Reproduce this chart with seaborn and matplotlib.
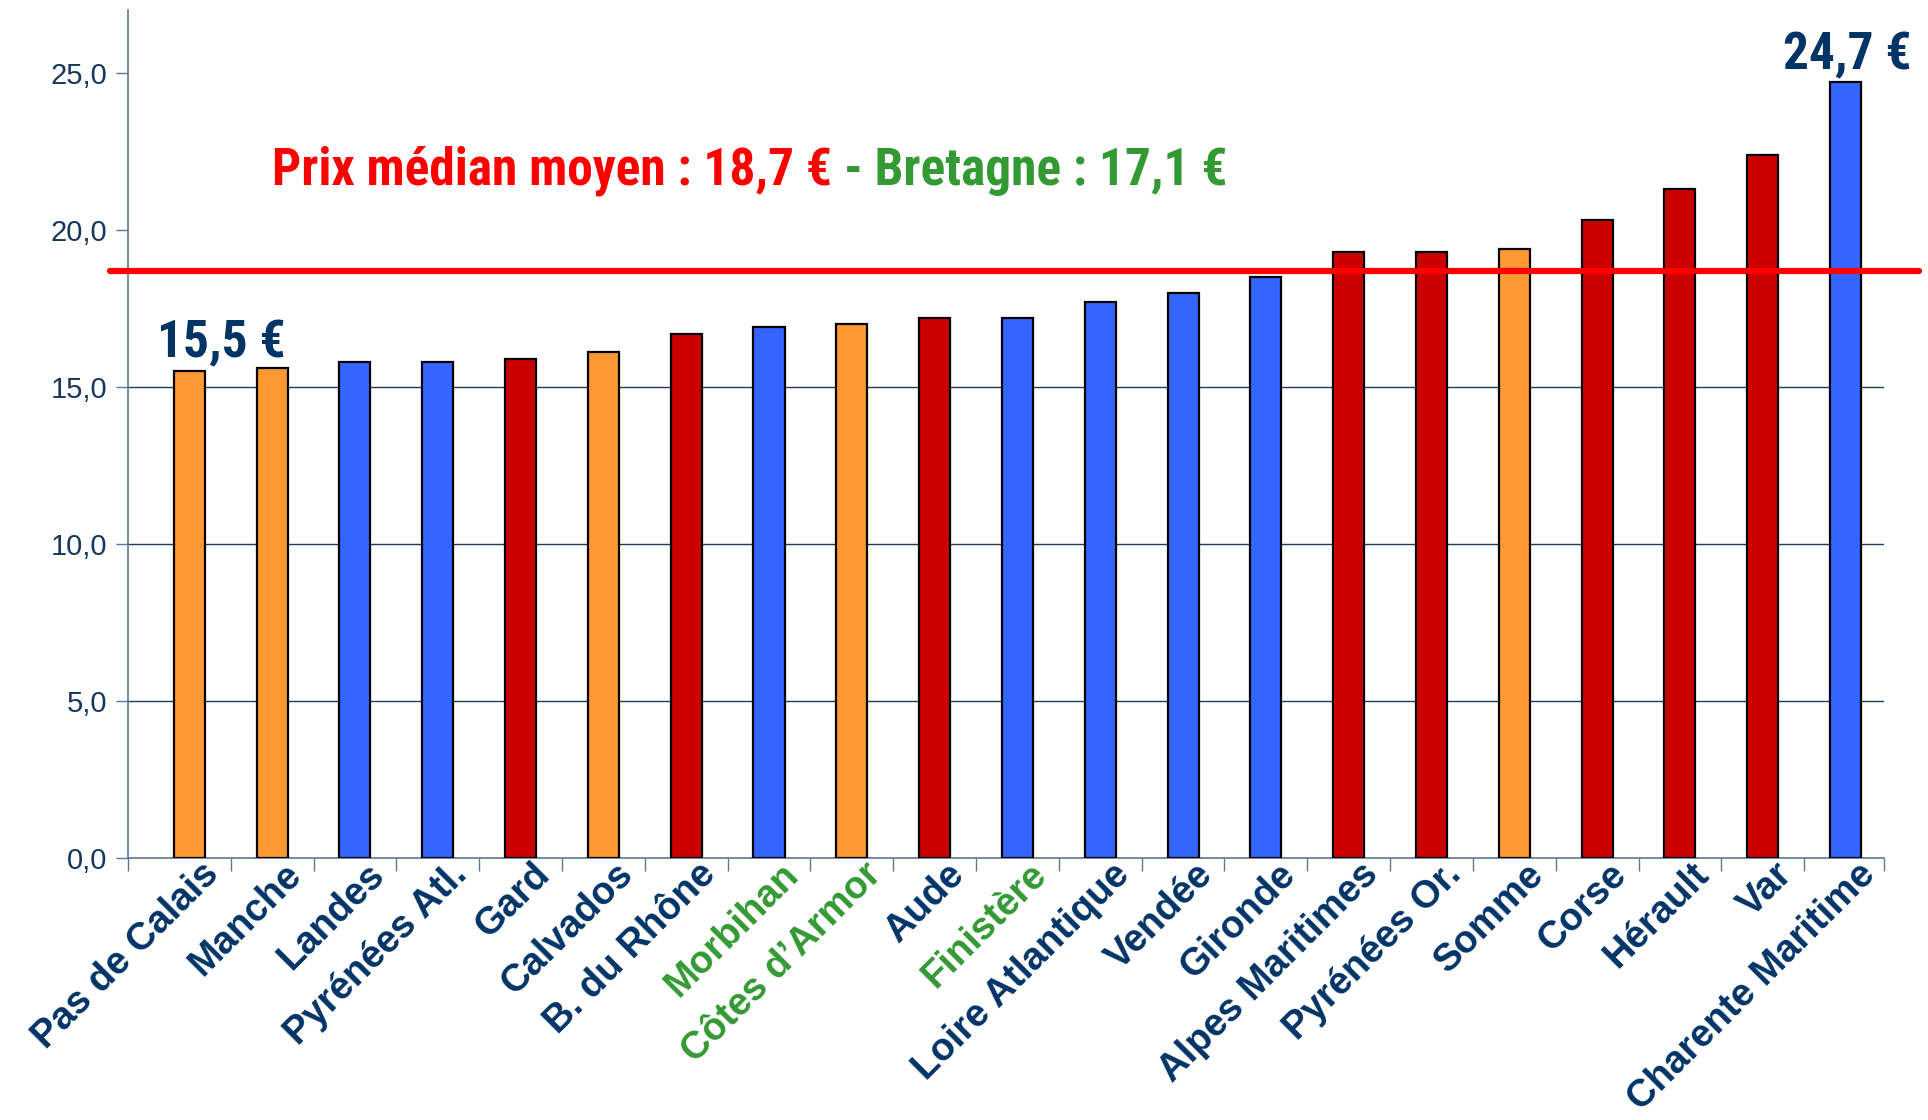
import matplotlib
matplotlib.use("Agg")
import matplotlib.pyplot as plt
import matplotlib.transforms as mtransforms
from matplotlib import font_manager
import seaborn as sns
import pandas as pd

# data (prix médian, €)
departements = [
    "Pas de Calais", "Manche", "Landes", "Pyrénées Atl.", "Gard", "Calvados",
    "B. du Rhône", "Morbihan", "Côtes d’Armor", "Aude", "Finistère",
    "Loire Atlantique", "Vendée", "Gironde", "Alpes Maritimes", "Pyrénées Or.",
    "Somme", "Corse", "Hérault", "Var", "Charente Maritime",
]
prix = [15.5, 15.6, 15.8, 15.8, 15.9, 16.1, 16.7, 16.9, 17.0, 17.2, 17.2,
        17.7, 18.0, 18.5, 19.3, 19.3, 19.4, 20.3, 21.3, 22.4, 24.7]
facade = ["nord", "nord", "atl", "atl", "med", "nord", "med", "atl", "nord",
          "med", "atl", "atl", "atl", "atl", "med", "med", "nord", "med",
          "med", "med", "atl"]
bretagne = ["Morbihan", "Côtes d’Armor", "Finistère"]
prix_moyen = 18.7
prix_bretagne = 17.1
y_ticks = [0, 5, 10, 15, 20, 25]
grid_values = [5, 10, 15]

colors_facade = {"nord": "#FF9933", "atl": "#3366FF", "med": "#CC0000"}
navy = "#003366"
green = "#339933"


def first_font(names):
    for n in names:
        try:
            font_manager.findfont(font_manager.FontProperties(family=n),
                                  fallback_to_default=False)
            return n
        except ValueError:
            continue
    return "Liberation Sans"


# condensed face for the headline and call-outs, if there is one
narrow = first_font(["Liberation Sans Narrow", "Roboto Condensed",
                     "Arial Narrow", "Roboto"])
big = {"Liberation Sans Narrow": 38, "Roboto Condensed": 37,
       "Arial Narrow": 38}.get(narrow, 34)

df = pd.DataFrame({"dep": departements, "prix": prix, "facade": facade})

sns.set_theme(style="white")
plt.rcParams["font.family"] = ["Liberation Sans", "DejaVu Sans"]

fig = plt.figure(figsize=(19.28, 11.2), dpi=100)
ax = fig.add_axes([0.0664, 0.234, 0.9106, 0.757])

sns.barplot(data=df, x="dep", y="prix", hue="facade", palette=colors_facade,
            dodge=False, width=0.375, saturation=1, edgecolor="black",
            linewidth=1.6, legend=False, ax=ax, zorder=3)

ax.set_xlim(-0.74, 20.46)
ax.set_ylim(0, 27)

for g in grid_values:
    ax.axhline(g, color="#1F3B5C", lw=1.0, zorder=1)

# median line, running a bit past both ends of the axis
ax.plot([-0.01, 1.02], [prix_moyen, prix_moyen], color="#FF0000", lw=4.5,
        transform=ax.get_yaxis_transform(), clip_on=False, zorder=4)

# y axis
ax.set_yticks(y_ticks)
ax.set_yticklabels([f"{v:.1f}".replace(".", ",") for v in y_ticks],
                   fontsize=21, color="#17375E")
ax.tick_params(axis="y", direction="out", length=9, width=1, color="#5B7899",
               pad=6, left=True)

# x axis: labels at bars, tick marks between categories
ax.set_xticks(range(len(departements)))
ax.set_xticklabels(departements, rotation=45, ha="right", va="center",
                   rotation_mode="anchor", fontsize=27.5, fontweight="bold")
ax.set_xticks([-0.74] + [i + 0.5 for i in range(len(departements) - 1)] + [20.46],
              minor=True)
ax.tick_params(axis="x", which="major", length=0, pad=8)
ax.tick_params(axis="x", which="minor", direction="out", length=9, width=1,
               color="#5B7899", bottom=True)
shift = mtransforms.ScaledTranslation(24 / 100, 0, fig.dpi_scale_trans)
for lab in ax.get_xticklabels():
    lab.set_color(green if lab.get_text() in bretagne else navy)
    lab.set_transform(lab.get_transform() + shift)

ax.set_xlabel("")
ax.set_ylabel("")
for side in ["top", "right"]:
    ax.spines[side].set_visible(False)
for side in ["left", "bottom"]:
    ax.spines[side].set_color("#5B7899")
    ax.spines[side].set_linewidth(1.2)

# headline with two colours
t1 = ax.text(1.0, 21.45, f"Prix médian moyen : {prix_moyen:.1f} € ".replace(".", ","),
             color="#FF0000", fontsize=big, fontweight="bold",
             family=[narrow, "DejaVu Sans"], va="baseline", ha="left")
ax.annotate(f"- Bretagne : {prix_bretagne:.1f} €".replace(".", ","),
            xy=(1, 0), xycoords=t1, va="bottom", ha="left",
            color=green, fontsize=big, fontweight="bold",
            family=[narrow, "DejaVu Sans"])

# min / max call-outs
ax.text(0.39, 15.95, f"{prix[0]:.1f} €".replace(".", ","), color=navy,
        fontsize=big, fontweight="bold", family=[narrow, "DejaVu Sans"],
        ha="center", va="baseline")
ax.text(20.02, 25.1, f"{prix[-1]:.1f} €".replace(".", ","), color=navy,
        fontsize=big, fontweight="bold", family=[narrow, "DejaVu Sans"],
        ha="center", va="baseline")

fig.savefig("out.png", dpi=100)
